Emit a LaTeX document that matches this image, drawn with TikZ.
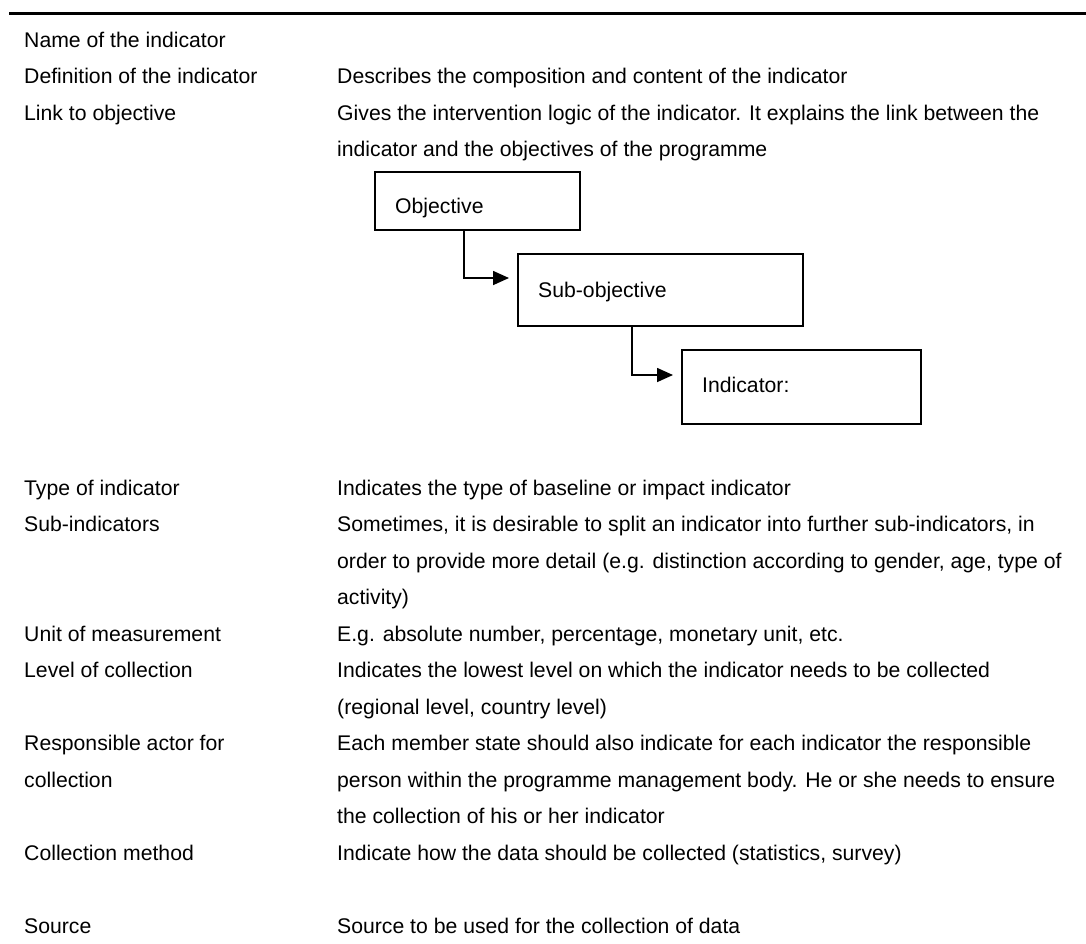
\documentclass[tikz,border=0pt]{standalone}
\usepackage{fontspec}
\setmainfont{Liberation Sans}
\usetikzlibrary{arrows.meta}
\begin{document}
\begin{tikzpicture}[x=1pt,y=-1pt,
  txt/.style={anchor=base west, inner sep=0pt, font=\fontsize{21.2pt}{25pt}\selectfont},
  box/.style={draw, line width=1.6pt, anchor=north west, inner sep=0pt},
  link/.style={line width=1.6pt, -{Triangle[length=16pt,width=14pt]}, shorten >=8pt},
  rule/.style={line width=2.6pt}]
\useasboundingbox (0,0) rectangle (1086,943);

% top rule
\coordinate (ruleL) at (9,13.5);
\coordinate (ruleR) at (1086,13.5);
\draw[rule] (ruleL) -- (ruleR);

% left column: field names
\node[txt] (n1)  at (24,47)    {Name of the indicator};
\node[txt] (n2)  at (24,83.5)  {Definition of the indicator};
\node[txt] (n3)  at (24,120)   {Link to objective};
\node[txt] (n5)  at (24,495)   {Type of indicator};
\node[txt] (n6)  at (24,531.5) {Sub-indicators};
\node[txt] (n9)  at (24,641)   {Unit of measurement};
\node[txt] (n10) at (24,677.5) {Level of collection};
\node[txt] (n12) at (24,750.5) {Responsible actor for};
\node[txt] (n13) at (24,787)   {collection};
\node[txt] (n15) at (24,860)   {Collection method};
\node[txt] (n16) at (24,933)   {Source};

% right column: descriptions
\node[txt] (d2)  at (337,83.5)  {Describes the composition and content of the indicator};
\node[txt] (d3)  at (337,120)   {Gives the intervention logic of the indicator. It explains the link between the};
\node[txt] (d4)  at (337,156.5) {indicator and the objectives of the programme};
\node[txt] (d5)  at (337,495)   {Indicates the type of baseline or impact indicator};
\node[txt] (d6)  at (337,531.5) {Sometimes, it is desirable to split an indicator into further sub-indicators, in};
\node[txt] (d7)  at (337,568)   {order to provide more detail (e.g. distinction according to gender, age, type of};
\node[txt] (d8)  at (337,604.5) {activity)};
\node[txt] (d9)  at (337,641)   {E.g. absolute number, percentage, monetary unit, etc.};
\node[txt] (d10) at (337,677.5) {Indicates the lowest level on which the indicator needs to be collected};
\node[txt] (d11) at (337,714)   {(regional level, country level)};
\node[txt] (d12) at (337,750.5) {Each member state should also indicate for each indicator the responsible};
\node[txt] (d13) at (337,787)   {person within the programme management body. He or she needs to ensure};
\node[txt] (d14) at (337,823.5) {the collection of his or her indicator};
\node[txt] (d15) at (337,860)   {Indicate how the data should be collected (statistics, survey)};
\node[txt] (d16) at (337,933)   {Source to be used for the collection of data};

% hierarchy boxes
\node[box, minimum width=205pt, minimum height=58pt] (obj) at (374,171) {};
\node[txt] (objt) at (395,213) {Objective};
\node[box, minimum width=285pt, minimum height=72pt] (sub) at (517,253) {};
\node[txt] (subt) at (538,297) {Sub-objective};
\node[box, minimum width=239pt, minimum height=74pt] (ind) at (681,349) {};
\node[txt] (indt) at (702,392) {Indicator:};

% elbow connectors
\coordinate (c1) at (464,278);
\coordinate (c2) at (632,375);
\draw[link] (obj.south -| c1) |- (c1 -| sub.west);
\draw[link] (sub.south -| c2) |- (c2 -| ind.west);
\end{tikzpicture}
\end{document}
